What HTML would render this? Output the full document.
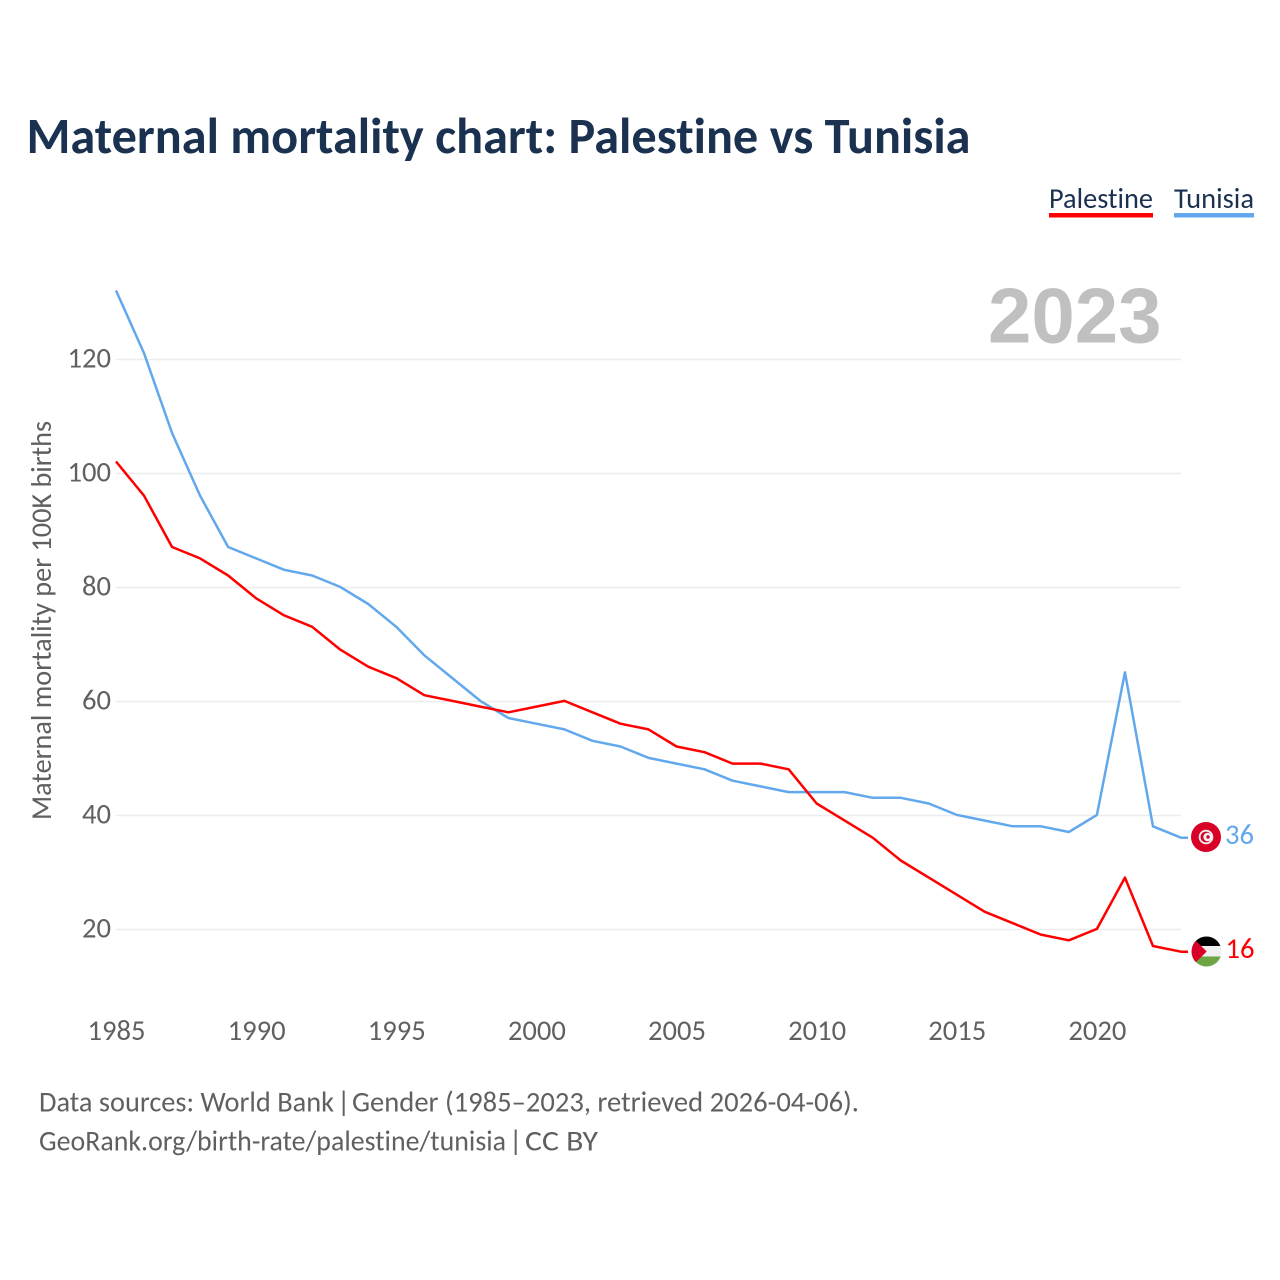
<!DOCTYPE html>
<html lang="en">
<head>
<meta charset="utf-8">
<title>Maternal mortality chart: Palestine vs Tunisia</title>
<style>
html,body{margin:0;padding:0;background:#fff;width:1280px;height:1280px;overflow:hidden}
svg{display:block}
text{font-family:"Carlito","Lato","Liberation Sans",sans-serif;font-variant-ligatures:none;font-feature-settings:"liga" 0,"clig" 0}
</style>
</head>
<body>
<svg id="chart" xmlns="http://www.w3.org/2000/svg" width="1280" height="1280" viewBox="0 0 1280 1280">
  <defs>
    <clipPath id="clip-tn"><circle cx="1206" cy="837" r="15"/></clipPath>
    <clipPath id="clip-ps"><circle cx="1206.5" cy="951.5" r="15"/></clipPath>
  </defs>
  <rect x="0" y="0" width="1280" height="1280" fill="#ffffff"/>
  <text x="26.5" y="153" font-size="51" font-weight="700" fill="#1a3150" textLength="944" lengthAdjust="spacingAndGlyphs">Maternal mortality chart: Palestine vs Tunisia</text>

  <g>
    <g>
      <text x="1049" y="208" font-size="29" fill="#1a3150" textLength="104" lengthAdjust="spacingAndGlyphs">Palestine</text>
      <rect x="1049" y="213" width="104" height="4.5" fill="#ff0000"/>
    </g>
    <g>
      <text x="1174" y="208" font-size="29" fill="#1a3150" textLength="80" lengthAdjust="spacingAndGlyphs">Tunisia</text>
      <rect x="1174" y="213" width="80" height="4.5" fill="#62a8ec"/>
    </g>
  </g>

  <g id="grid"></g>
  <text x="1161.5" y="342.5" text-anchor="end" font-size="78" font-weight="700" fill="#c0c0c0" style='font-family:"Liberation Sans",sans-serif'>2023</text>
  <g id="y-ticks"></g>
  <g id="x-ticks"></g>
  <text transform="translate(51 820) rotate(-90)" font-size="29" fill="#606060" textLength="399" lengthAdjust="spacingAndGlyphs">Maternal mortality per 100K births</text>

  <g id="series"></g>

  <g clip-path="url(#clip-tn)">
    <rect x="1190" y="821" width="32" height="32" fill="#d80027"/>
    <circle cx="1206" cy="837" r="7.3" fill="#f0f0f0"/>
    <circle cx="1206" cy="837" r="5.4" fill="#d80027"/>
    <circle cx="1207.6" cy="837" r="4.3" fill="#f0f0f0"/>
    <circle cx="1208" cy="837" r="1.7" fill="#d80027"/>
  </g>
  <g clip-path="url(#clip-ps)">
    <rect x="1191" y="936" width="31" height="10" fill="#000000"/>
    <rect x="1191" y="946" width="31" height="10.5" fill="#f0f0f0"/>
    <rect x="1191" y="956.5" width="31" height="10" fill="#6da544"/>
    <path d="M1191 936 L1206.7 951.5 L1191 967 Z" fill="#d80027"/>
  </g>

  <text id="end-tunisia" x="1225" y="844" font-size="28.6" fill="#62a8ec"></text>
  <text id="end-palestine" x="1225.5" y="958" font-size="28.6" fill="#ff0000"></text>

  <text y="1111.5" font-size="29" fill="#606060"><tspan x="39" textLength="295" lengthAdjust="spacingAndGlyphs">Data sources: World Bank</tspan><tspan x="337">|</tspan><tspan x="352" textLength="507" lengthAdjust="spacingAndGlyphs">Gender (1985–2023, retrieved 2026-04-06).</tspan></text>
  <text y="1150.5" font-size="29" fill="#606060"><tspan x="39" textLength="467" lengthAdjust="spacingAndGlyphs">GeoRank.org/birth-rate/palestine/tunisia</tspan><tspan x="509">|</tspan><tspan x="525" textLength="73" lengthAdjust="spacingAndGlyphs">CC BY</tspan></text>
</svg>
<script>
const years = [1985,1986,1987,1988,1989,1990,1991,1992,1993,1994,1995,1996,1997,1998,1999,2000,2001,2002,2003,2004,2005,2006,2007,2008,2009,2010,2011,2012,2013,2014,2015,2016,2017,2018,2019,2020,2021,2022,2023];
const palestine = [102,96,87,85,82,78,75,73,69,66,64,61,60,59,58,59,60,58,56,55,52,51,49,49,48,42,39,36,32,29,26,23,21,19,18,20,29,17,16];
const tunisia = [132,121,107,96,87,85,83,82,80,77,73,68,64,60,57,56,55,53,52,50,49,48,46,45,44,44,44,43,43,42,40,39,38,38,37,40,65,38,36];
const yTicks = [20,40,60,80,100,120];
const xTicks = [1985,1990,1995,2000,2005,2010,2015,2020];

const NS = 'http://www.w3.org/2000/svg';
const xScale = function (year) { return 116 + (year - 1985) * (1181 - 116) / 38; };
const yScale = function (value) { return 929.5 - (value - 20) * 5.7; };

const gridGroup = document.getElementById('grid');
const yGroup = document.getElementById('y-ticks');
yTicks.forEach(function (tick) {
  const line = document.createElementNS(NS, 'line');
  
  
  line.setAttribute('x1', 116);
  line.setAttribute('x2', 1181);
  line.setAttribute('y1', yScale(tick));
  line.setAttribute('y2', yScale(tick));
  line.setAttribute('stroke', '#ededed');
  line.setAttribute('stroke-width', '1.5');
  gridGroup.appendChild(line);
  const label = document.createElementNS(NS, 'text');
  
  
  label.setAttribute('x', 111);
  label.setAttribute('y', yScale(tick) + 8);
  label.setAttribute('text-anchor', 'end');
  label.setAttribute('font-size', '28.6');
  label.setAttribute('fill', '#606060');
  label.textContent = tick;
  yGroup.appendChild(label);
});

const xGroup = document.getElementById('x-ticks');
xTicks.forEach(function (tick) {
  const label = document.createElementNS(NS, 'text');
  
  
  label.setAttribute('x', xScale(tick) + 0.5);
  label.setAttribute('y', 1040);
  label.setAttribute('text-anchor', 'middle');
  label.setAttribute('font-size', '28.6');
  label.setAttribute('fill', '#606060');
  label.textContent = tick;
  xGroup.appendChild(label);
});

const pointsFor = function (values) {
  const pts = values.map(function (v, i) { return xScale(years[i]).toFixed(2) + ',' + (yScale(v) - 0.6).toFixed(2); });
  const lastY = yScale(values[values.length - 1]) - 0.6;
  pts.push((xScale(years[years.length - 1]) + 7).toFixed(2) + ',' + lastY.toFixed(2));
  return pts.join(' ');
};
const seriesGroup = document.getElementById('series');

const tunisiaLine = document.createElementNS(NS, 'polyline');


tunisiaLine.setAttribute('points', pointsFor(tunisia));
tunisiaLine.setAttribute('fill', 'none');
tunisiaLine.setAttribute('stroke', '#62a8ec');
tunisiaLine.setAttribute('stroke-width', '2.5');
tunisiaLine.setAttribute('stroke-linejoin', 'round');
seriesGroup.appendChild(tunisiaLine);

const palestineLine = document.createElementNS(NS, 'polyline');


palestineLine.setAttribute('points', pointsFor(palestine));
palestineLine.setAttribute('fill', 'none');
palestineLine.setAttribute('stroke', '#ff0000');
palestineLine.setAttribute('stroke-width', '2.5');
palestineLine.setAttribute('stroke-linejoin', 'round');
seriesGroup.appendChild(palestineLine);

document.getElementById('end-tunisia').textContent = tunisia[tunisia.length - 1];
document.getElementById('end-palestine').textContent = palestine[palestine.length - 1];
</script>
</body>
</html>
